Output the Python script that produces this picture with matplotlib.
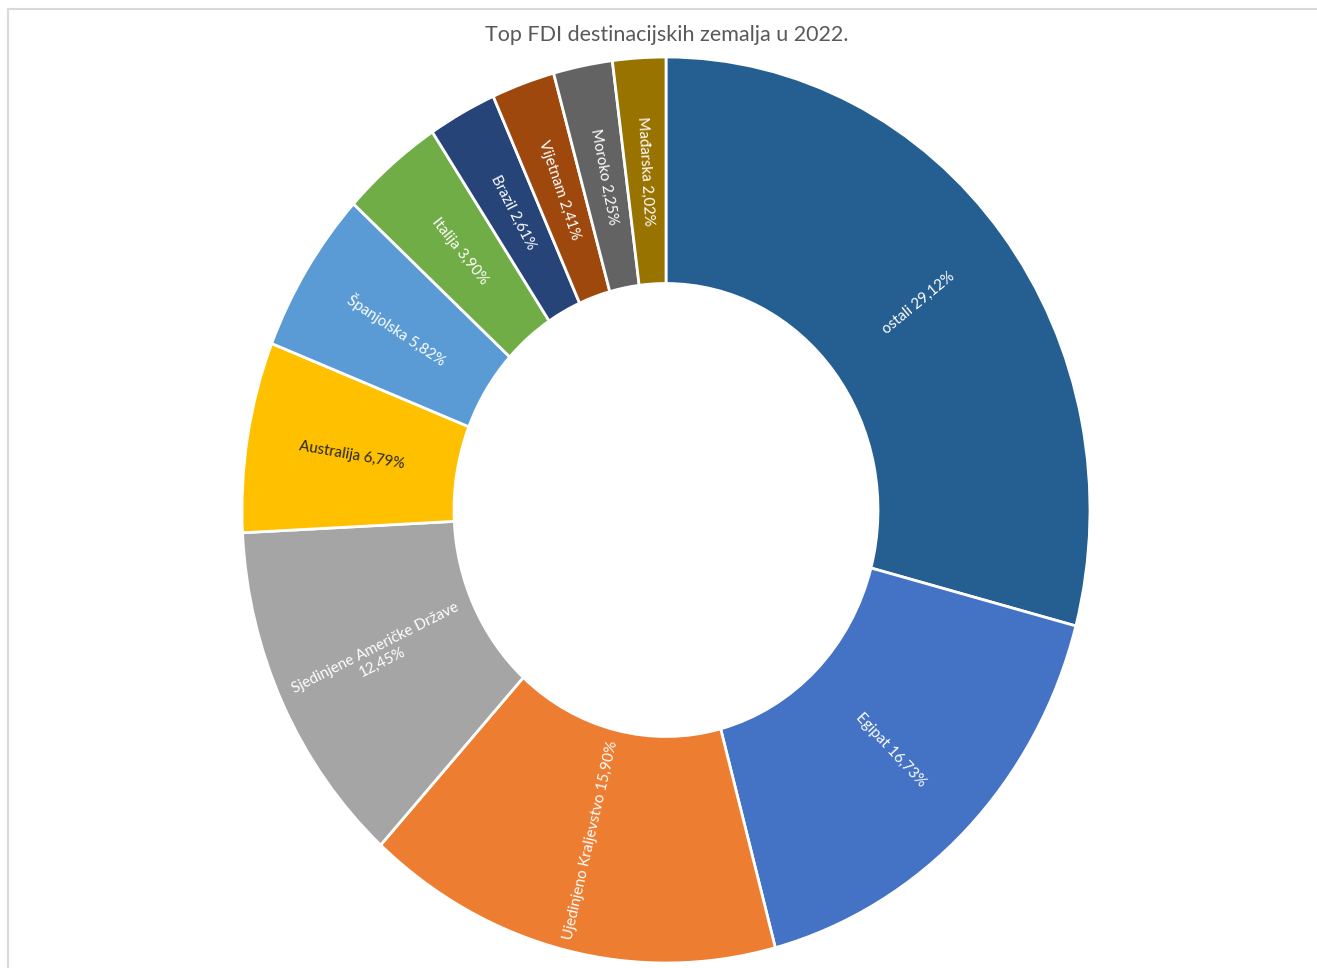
import matplotlib; matplotlib.use('Agg')

import matplotlib.pyplot as plt
from matplotlib.lines import Line2D
import numpy as np

plt.rcParams['font.family'] = ['Lato', 'DejaVu Sans']

countries = ["ostali", "Egipat", "Ujedinjeno Kraljevstvo", "Sjedinjene Američke Države",
             "Australija", "Španjolska", "Italija", "Brazil", "Vijetnam", "Moroko", "Mađarska"]
shares = [29.12, 16.73, 15.90, 12.45, 6.79, 5.82, 3.90, 2.61, 2.41, 2.25, 2.02]
colors = ["#255E91", "#4472C4", "#ED7D31", "#A5A5A5", "#FFC000", "#5B9BD5",
          "#70AD47", "#264478", "#9E480E", "#636363", "#997300"]
label_colors = ["white", "white", "white", "white", "#262626", "white",
                "white", "white", "white", "white", "white"]

W, H = 1317, 968
fig = plt.figure(figsize=(W / 100, H / 100), dpi=100)

# donut is slightly squashed in the reference
cx, cy, rx, ry = 666, 510, 424, 453
ax = fig.add_axes([(cx - rx) / W, (H - cy - ry) / H, 2 * rx / W, 2 * ry / H])

wedges, _ = ax.pie(shares, colors=colors, startangle=90, counterclock=False,
                   radius=1, wedgeprops=dict(width=0.5, edgecolor='white', linewidth=2))
ax.set_aspect('auto')
ax.set_xlim(-1, 1)
ax.set_ylim(-1, 1)
ax.axis('off')

cum = np.cumsum([0] + shares[:-1])
for name, val, start, tc in zip(countries, shares, cum, label_colors):
    theta = np.deg2rad(90 - (start + val / 2) * 3.6)
    x, y = 0.75 * np.cos(theta), 0.75 * np.sin(theta)
    rot = np.degrees(np.arctan2(ry * np.sin(theta), rx * np.cos(theta)))
    if rot > 90:
        rot -= 180
    elif rot < -90:
        rot += 180
    txt = name + " " + f"{val:.2f}".replace(".", ",") + "%"
    if name.startswith("Sjedinjene"):
        txt = name + "\n" + f"{val:.2f}".replace(".", ",") + "%"
    ax.text(x, y, txt, rotation=rot, rotation_mode='anchor', ha='center', va='center',
            color=tc, fontsize=10.8, linespacing=1.1)

fig.text(667 / W, 1 - 35 / H, "Top FDI destinacijskih zemalja u 2022.", ha='center', va='center',
         fontsize=15.5, color='#595959')

# chart border (only top and left edges visible)
fig.add_artist(Line2D([7.5 / W, 1], [1 - 8.5 / H, 1 - 8.5 / H], color='#D9D9D9', lw=1.5))
fig.add_artist(Line2D([7.5 / W, 7.5 / W], [0, 1 - 8.5 / H], color='#D9D9D9', lw=1.5))

plt.savefig("out.png", dpi=100)
